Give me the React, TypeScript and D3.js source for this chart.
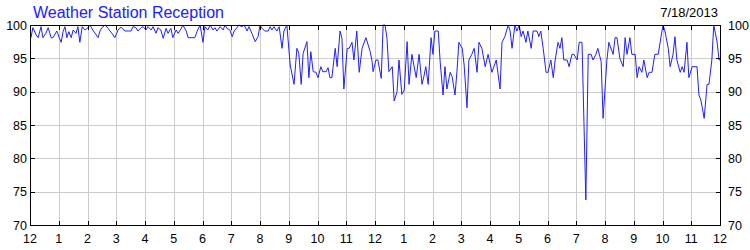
import React from "react";
import * as d3 from "d3";

// Time of each reading, in minutes after midnight
const minutes = [
  2, 6, 13, 17, 23, 27, 33, 38, 44, 48, 56, 61, 65, 69, 73, 77, 81, 86, 90, 96,
  100, 104, 109, 115, 121, 125, 131, 136, 142, 146, 150, 157, 163, 167, 171, 177, 184, 188, 192, 198,
  205, 211, 215, 221, 225, 232, 236, 242, 246, 253, 257, 263, 267, 273, 278, 284, 288, 294, 298, 305,
  309, 315, 319, 326, 330, 338, 344, 349, 355, 361, 365, 371, 376, 382, 386, 390, 397, 403, 407, 411,
  417, 422, 426, 432, 436, 442, 447, 453, 457, 463, 470, 476, 480, 484, 490, 497, 501, 505, 509, 515,
  520, 526, 530, 536, 543, 551, 557, 561, 566, 570, 578, 582, 586, 591, 597, 601, 607, 611, 618, 622,
  626, 630, 637, 641, 647, 651, 655, 662, 666, 672, 676, 682, 687, 693, 701, 710, 714, 716, 722, 726,
  733, 737, 741, 745, 749, 756, 760, 766, 770, 776, 781, 787, 791, 797, 801, 806, 812, 818, 822, 826,
  831, 837, 841, 845, 852, 856, 862, 866, 870, 877, 881, 887, 891, 895, 902, 906, 912, 916, 922, 927,
  933, 937, 943, 950, 956, 964, 973, 981, 985, 991, 998, 1002, 1006, 1012, 1016, 1021, 1025, 1029, 1035, 1039,
  1046, 1050, 1058, 1062, 1066, 1071, 1077, 1081, 1087, 1092, 1096, 1102, 1106, 1110, 1114, 1121, 1125, 1131, 1135, 1142,
  1146, 1152, 1160, 1165, 1171, 1175, 1181, 1185, 1192, 1196, 1204, 1208, 1217, 1221, 1225, 1231, 1238, 1242, 1246, 1252,
  1256, 1263, 1267, 1271, 1277, 1281, 1288, 1292, 1298, 1304, 1311, 1317, 1321, 1325, 1332, 1336, 1342, 1346, 1350, 1357,
  1361, 1365, 1371, 1375, 1382, 1386, 1392, 1396, 1400, 1407, 1413, 1417, 1423, 1427, 1434, 1438, 1440,
];

// Reception percentage of each reading
const reception = [
  98.1, 99.6, 98.5, 98.1, 99.75, 98.1, 98.75, 99.6, 98.1, 98.1, 99.1, 98.1, 97.4, 99, 99.75, 98.1, 99, 98.1, 99.25, 98.75,
  99.75, 97.4, 99.75, 99.25, 99.6, 100, 99.25, 98.75, 98.1, 99.1, 99.6, 100, 99.5, 99.1, 98.75, 98.1, 99.25, 99.6, 99.6, 99.1,
  99.1, 99.1, 99.75, 99.6, 99.1, 99.6, 99.75, 99.25, 99.75, 99.25, 99.75, 98.75, 99.6, 99.25, 98, 99.5, 98.75, 99.5, 98.1, 99.25,
  98.75, 99.4, 100, 99.1, 98.1, 98.1, 98.1, 99.1, 100, 97.4, 99.75, 99.25, 100, 99.25, 99.6, 99.1, 99.75, 99.25, 100, 99.5,
  99.25, 98.25, 99.1, 99.6, 100, 99.75, 100, 99.1, 99.75, 98.75, 97.5, 98.25, 100, 99.5, 99.1, 99.1, 99.75, 99.25, 99.75, 99.1,
  99.75, 96.5, 99.1, 100, 94, 91.1, 96.5, 95.75, 91.1, 95.75, 97.5, 92.1, 96, 93, 92.9, 92.1, 93.75, 93, 93, 93.6,
  92.1, 92.1, 96.5, 93.75, 99.1, 98, 90.4, 96.5, 96.5, 97.4, 94.75, 99.1, 92.9, 96.5, 98.1, 96, 94.5, 93, 94.75, 94.75,
  92, 100, 100, 98, 93, 93.75, 88.6, 90, 94.75, 89.6, 90.25, 97.5, 91.1, 95.6, 94, 92.1, 95.6, 91.1, 92.25, 93.75,
  91.1, 98.1, 95.6, 99.1, 99.1, 94.5, 89.5, 93.75, 90.4, 92.9, 92.25, 89.5, 93, 97.4, 96.5, 94, 87.6, 94.75, 95.6, 96.5,
  92.9, 97.4, 96.5, 93.75, 95.6, 92.9, 94.75, 90.4, 97.4, 98.25, 100, 99.1, 96.5, 100, 99.1, 100, 98.25, 99.1, 97.4, 99.1,
  96.5, 99.1, 99.1, 98.25, 99.1, 96.5, 92.9, 92.9, 94.75, 92.1, 94.75, 97.4, 96.5, 98.1, 94.75, 94.75, 93.75, 95.6, 95.6, 94.75,
  97.4, 97.4, 73.75, 95.6, 95.6, 94.75, 95.6, 96.5, 94.5, 86, 94.75, 97.4, 95.6, 98.1, 98.1, 95, 93.75, 98.1, 95.6, 98.1,
  95.6, 95.6, 92.1, 93.75, 92.9, 94.75, 92.1, 92.9, 92.9, 95.6, 95.6, 98.25, 100, 99.1, 96.5, 93.75, 95.6, 98.25, 94.75, 92.9,
  93.75, 92.9, 97.4, 92.1, 93.75, 93.75, 93.75, 89.5, 88.75, 86, 91.1, 91.1, 94.75, 100, 97.4, 94.75, 94.75,
];

const yTicks = [70, 75, 80, 85, 90, 95, 100];
const hourLabels = ["12", "1", "2", "3", "4", "5", "6", "7", "8", "9", "10", "11", "12", "1", "2", "3", "4", "5", "6", "7", "8", "9", "10", "11", "12"];
const title = "Weather Station Reception";
const dateLabel = "7/18/2013";

const W = 750;
const H = 250;
const L = 30;
const R = 720;
const T = 25;
const B = 225;
const FONT = "'Liberation Sans', Arial, sans-serif";

export default function App() {
  const x = d3.scaleLinear().domain([0, 1440]).range([L, R]);
  const y = d3.scaleLinear().domain([70, 100]).range([B, T]);
  const hours = hourLabels.map((_, i) => i * 60);
  const pts: [number, number][] = minutes.map((m, i) => [m, reception[i]]);
  const line = d3
    .line<[number, number]>()
    .x((d) => x(d[0]))
    .y((d) => y(d[1]));

  return (
    <svg
      width={W}
      height={H}
      style={{ position: "absolute", left: 0, top: 0, background: "#fff" }}
    >
      <rect x={0} y={0} width={W} height={H} fill="#fff" />
      {/* grid */}
      <g stroke="#cccccc" strokeWidth={1} shapeRendering="crispEdges">
        {yTicks.slice(1, -1).map((t) => (
          <line key={"gy" + t} x1={L} x2={R} y1={Math.round(y(t)) + 0.5} y2={Math.round(y(t)) + 0.5} />
        ))}
        {hours.slice(1, -1).map((h) => (
          <line key={"gx" + h} x1={Math.round(x(h)) + 0.5} x2={Math.round(x(h)) + 0.5} y1={T} y2={B} />
        ))}
      </g>
      {/* data line */}
      <path d={line(pts) || ""} fill="none" stroke="#2020ff" strokeWidth={1} strokeLinejoin="round" />
      {/* frame */}
      <rect x={L + 0.5} y={T + 0.5} width={R - L} height={B - T} fill="none" stroke="#000" strokeWidth={1} shapeRendering="crispEdges" />
      {/* ticks */}
      <g stroke="#000" strokeWidth={1} shapeRendering="crispEdges">
        {hours.slice(1, -1).map((h) => {
          const xx = Math.round(x(h)) + 0.5;
          return (
            <g key={"tx" + h}>
              <line x1={xx} x2={xx} y1={B} y2={B - 4} />
              <line x1={xx} x2={xx} y1={T} y2={T + 5} />
            </g>
          );
        })}
        {yTicks.slice(1, -1).map((t) => {
          const yy = Math.round(y(t)) + 0.5;
          return (
            <g key={"ty" + t}>
              <line x1={L} x2={L + 5} y1={yy} y2={yy} />
              <line x1={R} x2={R - 4} y1={yy} y2={yy} />
            </g>
          );
        })}
      </g>
      {/* y labels */}
      <g fontFamily={FONT} fontSize={12.5} fill="#000">
        {yTicks.map((t) => (
          <text key={"ly" + t} x={27} y={y(t) + 4.5} textAnchor="end">
            {t}
          </text>
        ))}
        {yTicks.map((t) => (
          <text key={"ry" + t} x={728} y={y(t) + 4.5} textAnchor="start">
            {t}
          </text>
        ))}
        {hourLabels.map((lab, i) => (
          <text key={"lx" + i} x={x(hours[i])} y={243} textAnchor="middle">
            {lab}
          </text>
        ))}
      </g>
      <text x={33} y={18} fontFamily={FONT} fontSize={16} fill="#2020ff">
        {title}
      </text>
      <text x={718} y={16.5} fontFamily={FONT} fontSize={13} fill="#000" textAnchor="end">
        {dateLabel}
      </text>
    </svg>
  );
}
